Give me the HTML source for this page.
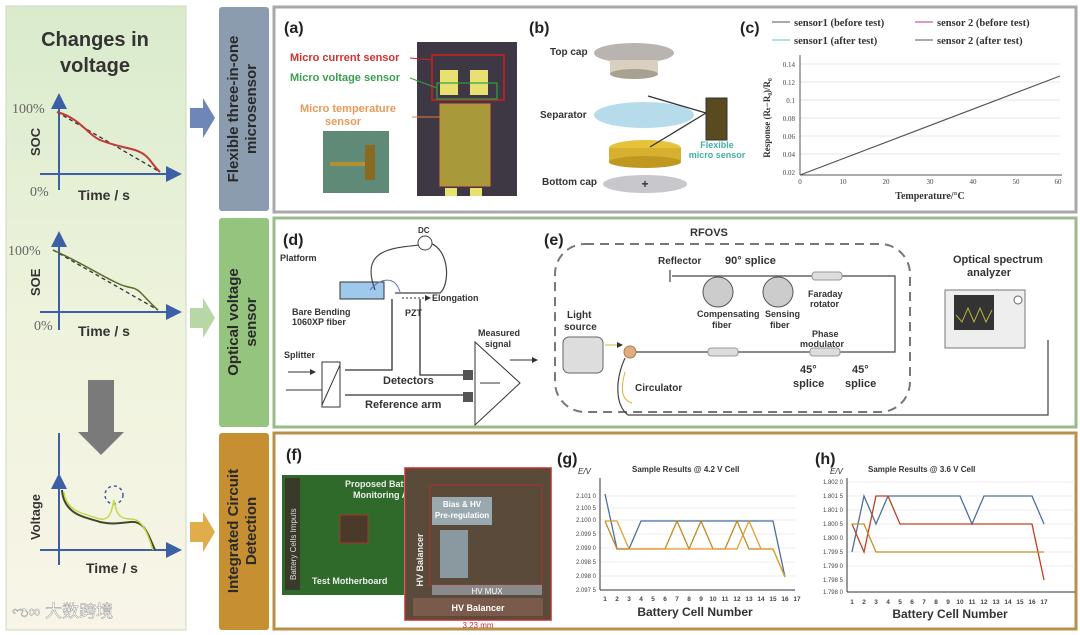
<!DOCTYPE html>
<html><head><meta charset="utf-8"><style>
html,body{margin:0;padding:0;background:#fff;}
svg{display:block;font-family:"Liberation Sans",Arial,sans-serif;}
</style></head><body>
<svg width="1080" height="635" viewBox="0 0 1080 635" xmlns="http://www.w3.org/2000/svg">
<defs>
<linearGradient id="lg" x1="0" y1="0" x2="0" y2="1"><stop offset="0" stop-color="#d9ebcc"/><stop offset="0.5" stop-color="#eef3dc"/><stop offset="1" stop-color="#f8f5e8"/></linearGradient>
<marker id="ab" markerWidth="8" markerHeight="8" refX="6" refY="4" orient="auto"><path d="M0,0 L8,4 L0,8z" fill="#3d5fa8"/></marker>
<marker id="ak" markerWidth="6" markerHeight="6" refX="5" refY="3" orient="auto"><path d="M0,0 L6,3 L0,6z" fill="#333"/></marker>
</defs>
<rect width="1080" height="635" fill="#fff"/>
<!-- left panel -->
<rect x="6" y="6" width="180" height="624" fill="url(#lg)" stroke="#ccd8c0"/>
<text x="95" y="46" text-anchor="middle" font-size="20" font-weight="bold" fill="#333">Changes in</text>
<text x="95" y="72" text-anchor="middle" font-size="20" font-weight="bold" fill="#333">voltage</text>
<!-- SOC plot -->
<g stroke="#3d5fa8" stroke-width="2" fill="none">
<line x1="59" y1="190" x2="59" y2="97" marker-end="url(#ab)"/>
<line x1="40" y1="174" x2="178" y2="174" marker-end="url(#ab)"/>
<line x1="59" y1="433" x2="59" y2="480" /></g>
<text x="12" y="113" font-size="14" font-family="Liberation Serif" fill="#666">100%</text>
<text x="30" y="196" font-size="14" font-family="Liberation Serif" fill="#666">0%</text>
<text x="78" y="200" font-size="14" font-weight="bold" fill="#333">Time / s</text>
<text transform="translate(40,156) rotate(-90)" font-size="13" font-weight="bold" fill="#333">SOC</text>
<path d="M57,112 L160,172" stroke="#333" stroke-dasharray="4,3" fill="none" stroke-width="1.3"/>
<path d="M57,112 C80,118 88,135 100,140 C115,146 125,147 135,150 C150,155 150,163 160,172" stroke="#c23a3a" fill="none" stroke-width="2"/>
<!-- SOE plot -->
<g stroke="#3d5fa8" stroke-width="2" fill="none">
<line x1="59" y1="330" x2="59" y2="235" marker-end="url(#ab)"/>
<line x1="40" y1="312" x2="178" y2="312" marker-end="url(#ab)"/></g>
<text x="8" y="255" font-size="14" font-family="Liberation Serif" fill="#666">100%</text>
<text x="34" y="330" font-size="14" font-family="Liberation Serif" fill="#666">0%</text>
<text x="78" y="336" font-size="14" font-weight="bold" fill="#333">Time / s</text>
<text transform="translate(40,296) rotate(-90)" font-size="13" font-weight="bold" fill="#333">SOE</text>
<path d="M53,250 L158,310" stroke="#333" stroke-dasharray="4,3" fill="none" stroke-width="1.3"/>
<path d="M53,250 C80,262 100,275 115,282 C130,290 132,285 140,292 C148,300 152,305 158,310" stroke="#5a6b2a" fill="none" stroke-width="1.5"/>
<!-- down arrow -->
<polygon points="88,380 114,380 114,432 124,432 101,455 78,432 88,432" fill="#7a7a7a"/>
<!-- voltage plot -->
<g stroke="#3d5fa8" stroke-width="2" fill="none">
<line x1="59" y1="565" x2="59" y2="477" marker-end="url(#ab)"/>
<line x1="40" y1="550" x2="178" y2="550" marker-end="url(#ab)"/></g>
<circle cx="114" cy="495" r="9" fill="none" stroke="#3d5fa8" stroke-dasharray="3,3" stroke-width="1.5"/>
<path d="M62,490 C64,515 85,517 100,522 C110,524 115,524 130,522 C145,520 148,535 155,550" stroke="#3d4a2a" fill="none" stroke-width="2"/>
<path d="M64,492 C66,512 85,514 100,519 C110,521 112,510 114,500 C116,512 118,519 130,519 C143,518 148,535 153,550" stroke="#c4d84a" fill="none" stroke-width="1.5"/>
<text transform="translate(40,540) rotate(-90)" font-size="13" font-weight="bold" fill="#333">Voltage</text>
<text x="86" y="573" font-size="14" font-weight="bold" fill="#333">Time / s</text>
<text x="12" y="617" font-size="17" fill="#fff" stroke="#888" stroke-width="0.4" font-family="Liberation Sans, Noto Sans CJK SC, sans-serif">ಌ∞ 大数跨境</text>
<!-- side arrows -->
<polygon points="190,108 203,108 203,98 215,118 203,138 203,128 190,128" fill="#6f86b8"/>
<polygon points="190,308 203,308 203,298 215,318 203,338 203,328 190,328" fill="#b7d7a5"/>
<polygon points="190,522 203,522 203,512 215,532 203,552 203,542 190,542" fill="#e1ad4a"/>
<!-- label boxes -->
<rect x="219" y="7" width="50" height="204" rx="3" fill="#8a9cae"/>
<rect x="219" y="218" width="50" height="209" rx="3" fill="#94c47e"/>
<rect x="219" y="433" width="50" height="197" rx="3" fill="#c68f32"/>
<g font-size="15" font-weight="bold" fill="#2a2a2a" text-anchor="middle">
<text transform="translate(238,109) rotate(-90)">Flexible three-in-one</text>
<text transform="translate(256,109) rotate(-90)">microsensor</text>
<text transform="translate(238,322) rotate(-90)">Optical voltage</text>
<text transform="translate(256,322) rotate(-90)">sensor</text>
<text transform="translate(238,531) rotate(-90)">Integrated Circuit</text>
<text transform="translate(256,531) rotate(-90)">Detection</text>
</g>
<!-- panels -->
<rect x="274" y="7" width="802" height="205" fill="#fff" stroke="#a8a8a8" stroke-width="3"/>
<rect x="274" y="218" width="802" height="209" fill="#fff" stroke="#9bb98a" stroke-width="3"/>
<rect x="274" y="433" width="802" height="196" fill="#fff" stroke="#b8904a" stroke-width="3"/>
<!-- (a) -->
<g font-weight="bold">
<text x="284" y="33" font-size="16" fill="#222">(a)</text>
<text x="290" y="61" font-size="11" fill="#d43030">Micro current sensor</text>
<text x="290" y="81" font-size="11" fill="#3aa050">Micro voltage sensor</text>
<text x="300" y="112" font-size="11" fill="#e89a5a">Micro temperature</text>
<text x="325" y="125" font-size="11" fill="#e89a5a">sensor</text>
</g>
<rect x="323" y="131" width="66" height="62" fill="#5f8a78"/>
<rect x="330" y="162" width="40" height="4" fill="#b49030"/><rect x="365" y="145" width="10" height="35" fill="#8a6a20"/>
<rect x="417" y="42" width="100" height="154" fill="#3e3844"/>
<rect x="432" y="55" width="72" height="45" fill="none" stroke="#d02020" stroke-width="1.5"/>
<rect x="440" y="70" width="18" height="25" fill="#e8e070"/><rect x="470" y="70" width="18" height="25" fill="#e8e070"/>
<rect x="437" y="83" width="60" height="16" fill="none" stroke="#30a040" stroke-width="1.2"/>
<rect x="440" y="104" width="50" height="82" fill="#a89a3a" stroke="#e08040" stroke-width="1"/>
<rect x="445" y="188" width="12" height="8" fill="#e8e070"/><rect x="470" y="188" width="12" height="8" fill="#e8e070"/>
<line x1="410" y1="58" x2="432" y2="60" stroke="#d02020"/>
<line x1="410" y1="78" x2="437" y2="88" stroke="#30a040"/>
<line x1="412" y1="117" x2="440" y2="117" stroke="#e08040"/>
<!-- (b) -->
<text x="529" y="33" font-size="16" font-weight="bold" fill="#222">(b)</text>
<g font-size="10" font-weight="bold" fill="#333">
<text x="550" y="55">Top cap</text><text x="540" y="118">Separator</text><text x="542" y="185">Bottom cap</text>
</g>
<ellipse cx="634" cy="53" rx="40" ry="10" fill="#b9b4b0"/>
<rect x="610" y="60" width="48" height="14" fill="#d9d0c0"/><ellipse cx="634" cy="74" rx="24" ry="5" fill="#a8a090"/>
<ellipse cx="644" cy="115" rx="50" ry="13" fill="#b6dceb"/>
<ellipse cx="645" cy="148" rx="36" ry="8" fill="#e5c23a"/><rect x="609" y="148" width="72" height="14" fill="#d8b030"/><ellipse cx="645" cy="162" rx="36" ry="6" fill="#c09820"/>
<ellipse cx="645" cy="184" rx="42" ry="9" fill="#c8c8cc"/>
<text x="645" y="188" font-size="12" font-weight="bold" text-anchor="middle" fill="#333">+</text>
<rect x="706" y="98" width="21" height="42" fill="#5a4a20" stroke="#333"/>
<line x1="706" y1="113" x2="648" y2="96" stroke="#333" stroke-width="1.3"/><line x1="706" y1="113" x2="650" y2="147" stroke="#333" stroke-width="1.3"/>
<text x="717" y="148" font-size="9" font-weight="bold" fill="#40b0a0" text-anchor="middle">Flexible</text>
<text x="717" y="158" font-size="9" font-weight="bold" fill="#40b0a0" text-anchor="middle">micro sensor</text>
<!-- (c) -->
<text x="740" y="33" font-size="16" font-weight="bold" fill="#222">(c)</text>
<g font-size="10.5" font-family="Liberation Serif" fill="#333" font-weight="bold">
<line x1="772" y1="22" x2="790" y2="22" stroke="#555"/><text x="794" y="26">sensor1 (before test)</text>
<line x1="915" y1="22" x2="933" y2="22" stroke="#c0308a"/><text x="937" y="26">sensor 2 (before test)</text>
<line x1="772" y1="40" x2="790" y2="40" stroke="#5ac8c0"/><text x="794" y="44">sensor1 (after test)</text>
<line x1="915" y1="40" x2="933" y2="40" stroke="#555"/><text x="937" y="44">sensor 2 (after test)</text>
</g>
<g stroke="#ddd" stroke-width="0.8">
<line x1="800" y1="64" x2="1060" y2="64"/><line x1="800" y1="82" x2="1060" y2="82"/><line x1="800" y1="100" x2="1060" y2="100"/><line x1="800" y1="118" x2="1060" y2="118"/><line x1="800" y1="136" x2="1060" y2="136"/><line x1="800" y1="154" x2="1060" y2="154"/></g>
<line x1="800" y1="55" x2="800" y2="175" stroke="#555"/><line x1="800" y1="175" x2="1062" y2="175" stroke="#555"/>
<line x1="800" y1="175" x2="1060" y2="76" stroke="#555" stroke-width="1.2"/>
<g font-size="7" font-family="Liberation Serif" fill="#444" text-anchor="end">
<text x="795" y="67">0.14</text><text x="795" y="85">0.12</text><text x="795" y="103">0.1</text><text x="795" y="121">0.08</text><text x="795" y="139">0.06</text><text x="795" y="157">0.04</text><text x="795" y="175">0.02</text></g>
<g font-size="7" font-family="Liberation Serif" fill="#444" text-anchor="middle">
<text x="800" y="184">0</text><text x="843" y="184">10</text><text x="886" y="184">20</text><text x="930" y="184">30</text><text x="973" y="184">40</text><text x="1016" y="184">50</text><text x="1058" y="184">60</text></g>
<text x="930" y="199" font-size="10" font-family="Liberation Serif" font-weight="bold" text-anchor="middle" fill="#333">Temperature/°C</text>
<text transform="translate(770,118) rotate(-90)" font-size="9" font-family="Liberation Serif" font-weight="bold" text-anchor="middle" fill="#333">Response (Rₜ−R₀)/R₀</text>
<!-- (d) -->
<text x="283" y="245" font-size="16" font-weight="bold" fill="#222">(d)</text>
<g font-size="9" font-weight="bold" fill="#333">
<text x="280" y="261">Platform</text><text x="292" y="315">Bare Bending</text><text x="292" y="325">1060XP fiber</text>
<text x="432" y="301">Elongation</text><text x="405" y="316">PZT</text>
<text x="284" y="358">Splitter</text><text x="383" y="384" font-size="11">Detectors</text><text x="365" y="408" font-size="11">Reference arm</text>
<text x="478" y="336">Measured</text><text x="485" y="347">signal</text><text x="418" y="233" font-size="8">DC</text>
</g>
<rect x="340" y="282" width="44" height="17" fill="#9ec8ec" stroke="#333"/>
<path d="M375,290 C360,250 390,248 420,245 M430,243 C450,250 450,285 440,293 L395,293" fill="none" stroke="#444" stroke-width="1.2"/>
<circle cx="425" cy="243" r="7" fill="#fff" stroke="#444"/>
<path d="M370,290 C380,278 395,275 400,292" fill="none" stroke="#6070c0"/>
<line x1="402" y1="298" x2="430" y2="298" stroke="#333" stroke-dasharray="2,2" marker-end="url(#ak)"/>
<path d="M345,370 L392,370 L392,299 M345,395 L465,395 M420,299 L420,375 L465,375" fill="none" stroke="#333" stroke-width="1.3"/>
<line x1="288" y1="372" x2="315" y2="372" stroke="#333" marker-end="url(#ak)"/><line x1="286" y1="390" x2="322" y2="390" stroke="#333"/>
<rect x="322" y="362" width="18" height="45" fill="#fff" stroke="#333"/><line x1="322" y1="405" x2="340" y2="365" stroke="#333"/>
<polygon points="475,342 475,425 520,383" fill="#fff" stroke="#333"/>
<rect x="463" y="370" width="10" height="10" fill="#555"/><rect x="463" y="392" width="10" height="10" fill="#555"/>
<line x1="480" y1="383" x2="500" y2="383" stroke="#333"/>
<line x1="510" y1="360" x2="537" y2="360" stroke="#333" marker-end="url(#ak)"/>
<!-- (e) -->
<text x="544" y="245" font-size="16" font-weight="bold" fill="#222">(e)</text>
<text x="690" y="236" font-size="11" font-weight="bold" fill="#333">RFOVS</text>
<rect x="555" y="244" width="355" height="168" rx="30" fill="none" stroke="#777" stroke-width="2" stroke-dasharray="9,6"/>
<g font-size="10" font-weight="bold" fill="#333">
<text x="658" y="264">Reflector</text><text x="725" y="264" font-size="11">90° splice</text>
<text x="567" y="318">Light</text><text x="564" y="330">source</text>
<text x="697" y="317" font-size="9">Compensating</text><text x="712" y="328" font-size="9">fiber</text>
<text x="765" y="317" font-size="9">Sensing</text><text x="770" y="328" font-size="9">fiber</text>
<text x="808" y="297" font-size="9">Faraday</text><text x="810" y="307" font-size="9">rotator</text>
<text x="812" y="337" font-size="9">Phase</text><text x="800" y="347" font-size="9">modulator</text>
<text x="635" y="391">Circulator</text>
<text x="800" y="373" font-size="11">45°</text><text x="793" y="387" font-size="11">splice</text>
<text x="852" y="373" font-size="11">45°</text><text x="845" y="387" font-size="11">splice</text>
<text x="953" y="263" font-size="11">Optical spectrum</text><text x="967" y="276" font-size="11">analyzer</text>
</g>
<path d="M672,276 L895,276 L895,352 L630,352 M670,270 L670,282" fill="none" stroke="#444" stroke-width="1.2"/>
<circle cx="718" cy="292" r="15" fill="#ccc" stroke="#555"/><circle cx="778" cy="292" r="15" fill="#ccc" stroke="#555"/>
<rect x="812" y="272" width="30" height="8" rx="3" fill="#ddd" stroke="#999"/>
<rect x="810" y="348" width="30" height="8" rx="3" fill="#ddd" stroke="#999"/>
<rect x="708" y="348" width="30" height="8" rx="3" fill="#ddd" stroke="#999"/>
<rect x="563" y="337" width="40" height="36" rx="6" fill="#ddd" stroke="#666"/>
<circle cx="630" cy="352" r="6" fill="#e8a880" stroke="#885"/>
<line x1="605" y1="345" x2="622" y2="345" stroke="#e0b030" marker-end="url(#ak)"/>
<path d="M625,358 C615,380 615,405 628,415 L1048,415 L1048,340" fill="none" stroke="#444" stroke-width="1.2"/>
<path d="M625,372 C620,390 622,400 632,403" fill="none" stroke="#e0b030"/>
<rect x="945" y="290" width="80" height="58" fill="#eee" stroke="#777"/>
<rect x="954" y="295" width="40" height="35" fill="#333"/><path d="M956,315 L962,322 L968,308 L974,322 L980,308 L986,322 L992,310" stroke="#b8b040" fill="none"/>
<circle cx="1018" cy="300" r="4" fill="#fff" stroke="#666"/>
<!-- (f) -->
<text x="286" y="460" font-size="16" font-weight="bold" fill="#222">(f)</text>
<rect x="282" y="475" width="122" height="120" fill="#2f6a2a"/>
<rect x="285" y="478" width="15" height="112" fill="#3a3a2a"/>
<rect x="340" y="515" width="28" height="28" fill="#4a3a2a" stroke="#b03030"/>
<text x="345" y="487" font-size="9" font-weight="bold" fill="#eee">Proposed Battery</text>
<text x="353" y="498" font-size="9" font-weight="bold" fill="#eee">Monitoring AFE</text>
<text x="312" y="584" font-size="9" font-weight="bold" fill="#eee">Test Motherboard</text>
<text transform="translate(296,580) rotate(-90)" font-size="8" fill="#ddd">Battery Cells Imputs</text>
<rect x="405" y="468" width="146" height="152" fill="#5a4a3a" stroke="#c03030" stroke-width="1.5"/>
<rect x="430" y="485" width="112" height="100" fill="none" stroke="#b03030"/>
<rect x="432" y="497" width="60" height="28" fill="#9aa8b0"/>
<text x="462" y="507" font-size="8" font-weight="bold" fill="#fff" text-anchor="middle">Bias &amp; HV</text>
<text x="462" y="518" font-size="8" font-weight="bold" fill="#fff" text-anchor="middle">Pre-regulation</text>
<rect x="440" y="530" width="28" height="48" fill="#8a98a0"/>
<rect x="432" y="585" width="110" height="10" fill="#8a8a8a"/><text x="487" y="594" font-size="8" fill="#fff" text-anchor="middle">HV MUX</text>
<rect x="413" y="598" width="130" height="18" fill="#7a5a4a"/><text x="478" y="611" font-size="9" font-weight="bold" fill="#fff" text-anchor="middle">HV Balancer</text>
<text transform="translate(423,560) rotate(-90)" font-size="9" font-weight="bold" fill="#eee" text-anchor="middle">HV Balancer</text>
<text x="478" y="628" font-size="8" fill="#c03030" text-anchor="middle">3.23 mm</text>
<!-- (g) -->
<text x="557" y="464" font-size="16" font-weight="bold" fill="#222">(g)</text>
<text x="632" y="472" font-size="8" font-weight="bold" fill="#333">Sample Results @ 4.2 V Cell</text>
<text x="578" y="474" font-size="8" font-style="italic" fill="#333">E/V</text>
<g stroke="#e8e8e8" stroke-width="0.8"><line x1="600" y1="496" x2="795" y2="496"/><line x1="600" y1="508" x2="795" y2="508"/><line x1="600" y1="520" x2="795" y2="520"/><line x1="600" y1="534" x2="795" y2="534"/><line x1="600" y1="548" x2="795" y2="548"/><line x1="600" y1="562" x2="795" y2="562"/><line x1="600" y1="576" x2="795" y2="576"/></g>
<line x1="600" y1="478" x2="600" y2="590" stroke="#333"/><line x1="600" y1="590" x2="795" y2="590" stroke="#333"/>
<g font-size="6" fill="#444" text-anchor="end"><text x="596" y="498">2.101 0</text><text x="596" y="510">2.100 5</text><text x="596" y="522">2.100 0</text><text x="596" y="536">2.099 5</text><text x="596" y="550">2.099 0</text><text x="596" y="564">2.098 5</text><text x="596" y="578">2.098 0</text><text x="596" y="592">2.097 5</text></g>
<g stroke-width="1.3" fill="none">
<polyline points="605,494 617,549 629,549 641,521 653,521 665,521 677,521 689,521 701,521 713,521 725,521 737,521 749,521 761,521 773,521 785,577" stroke="#4a6fa0"/>
<polyline points="605,521 617,549 629,549 641,549 653,549 665,549 677,521 689,549 701,521 713,549 725,549 737,521 749,549 761,549 773,549 785,577" stroke="#c08a20"/>
<polyline points="605,521 617,521 629,549 641,549 653,549 665,549 677,549 689,549 701,549 713,549 725,549 737,549 749,521 761,549 773,549 785,577" stroke="#e0a030"/>
</g>
<g font-size="6.5" font-weight="bold" fill="#444" text-anchor="middle"><text x="605" y="601">1</text><text x="617" y="601">2</text><text x="629" y="601">3</text><text x="641" y="601">4</text><text x="653" y="601">5</text><text x="665" y="601">6</text><text x="677" y="601">7</text><text x="689" y="601">8</text><text x="701" y="601">9</text><text x="713" y="601">10</text><text x="725" y="601">11</text><text x="737" y="601">12</text><text x="749" y="601">13</text><text x="761" y="601">14</text><text x="773" y="601">15</text><text x="785" y="601">16</text><text x="797" y="601">17</text></g>
<text x="695" y="616" font-size="12" font-weight="bold" text-anchor="middle" fill="#333">Battery Cell Number</text>
<!-- (h) -->
<text x="815" y="464" font-size="16" font-weight="bold" fill="#222">(h)</text>
<text x="868" y="472" font-size="8" font-weight="bold" fill="#333">Sample Results @ 3.6 V Cell</text>
<text x="830" y="474" font-size="8" font-style="italic" fill="#333">E/V</text>
<g stroke="#e8e8e8" stroke-width="0.8"><line x1="847" y1="482" x2="1075" y2="482"/><line x1="847" y1="496" x2="1075" y2="496"/><line x1="847" y1="510" x2="1075" y2="510"/><line x1="847" y1="524" x2="1075" y2="524"/><line x1="847" y1="538" x2="1075" y2="538"/><line x1="847" y1="552" x2="1075" y2="552"/><line x1="847" y1="566" x2="1075" y2="566"/></g>
<line x1="847" y1="478" x2="847" y2="592" stroke="#333"/><line x1="847" y1="592" x2="1075" y2="592" stroke="#333"/>
<g font-size="6" fill="#444" text-anchor="end"><text x="843" y="484">1.802 0</text><text x="843" y="498">1.801 5</text><text x="843" y="512">1.801 0</text><text x="843" y="526">1.800 5</text><text x="843" y="540">1.800 0</text><text x="843" y="554">1.799 5</text><text x="843" y="568">1.799 0</text><text x="843" y="582">1.798 5</text><text x="843" y="594">1.798 0</text></g>
<g stroke-width="1.3" fill="none">
<polyline points="852,552 864,496 876,524 888,496 900,496 912,496 924,496 936,496 948,496 960,496 972,524 984,496 996,496 1008,496 1020,496 1032,496 1044,524" stroke="#4a6fa0"/>
<polyline points="852,524 864,552 876,496 888,496 900,524 912,524 924,524 936,524 948,524 960,524 972,524 984,524 996,524 1008,524 1020,524 1032,524 1044,580" stroke="#c04020"/>
<polyline points="852,524 864,524 876,552 888,552 900,552 912,552 924,552 936,552 948,552 960,552 972,552 984,552 996,552 1008,552 1020,552 1032,552 1044,552" stroke="#c09020"/>
</g>
<g font-size="6.5" font-weight="bold" fill="#444" text-anchor="middle"><text x="852" y="604">1</text><text x="864" y="604">2</text><text x="876" y="604">3</text><text x="888" y="604">4</text><text x="900" y="604">5</text><text x="912" y="604">6</text><text x="924" y="604">7</text><text x="936" y="604">8</text><text x="948" y="604">9</text><text x="960" y="604">10</text><text x="972" y="604">11</text><text x="984" y="604">12</text><text x="996" y="604">13</text><text x="1008" y="604">14</text><text x="1020" y="604">15</text><text x="1032" y="604">16</text><text x="1044" y="604">17</text></g>
<text x="950" y="618" font-size="12" font-weight="bold" text-anchor="middle" fill="#333">Battery Cell Number</text>
</svg>
</body></html>
